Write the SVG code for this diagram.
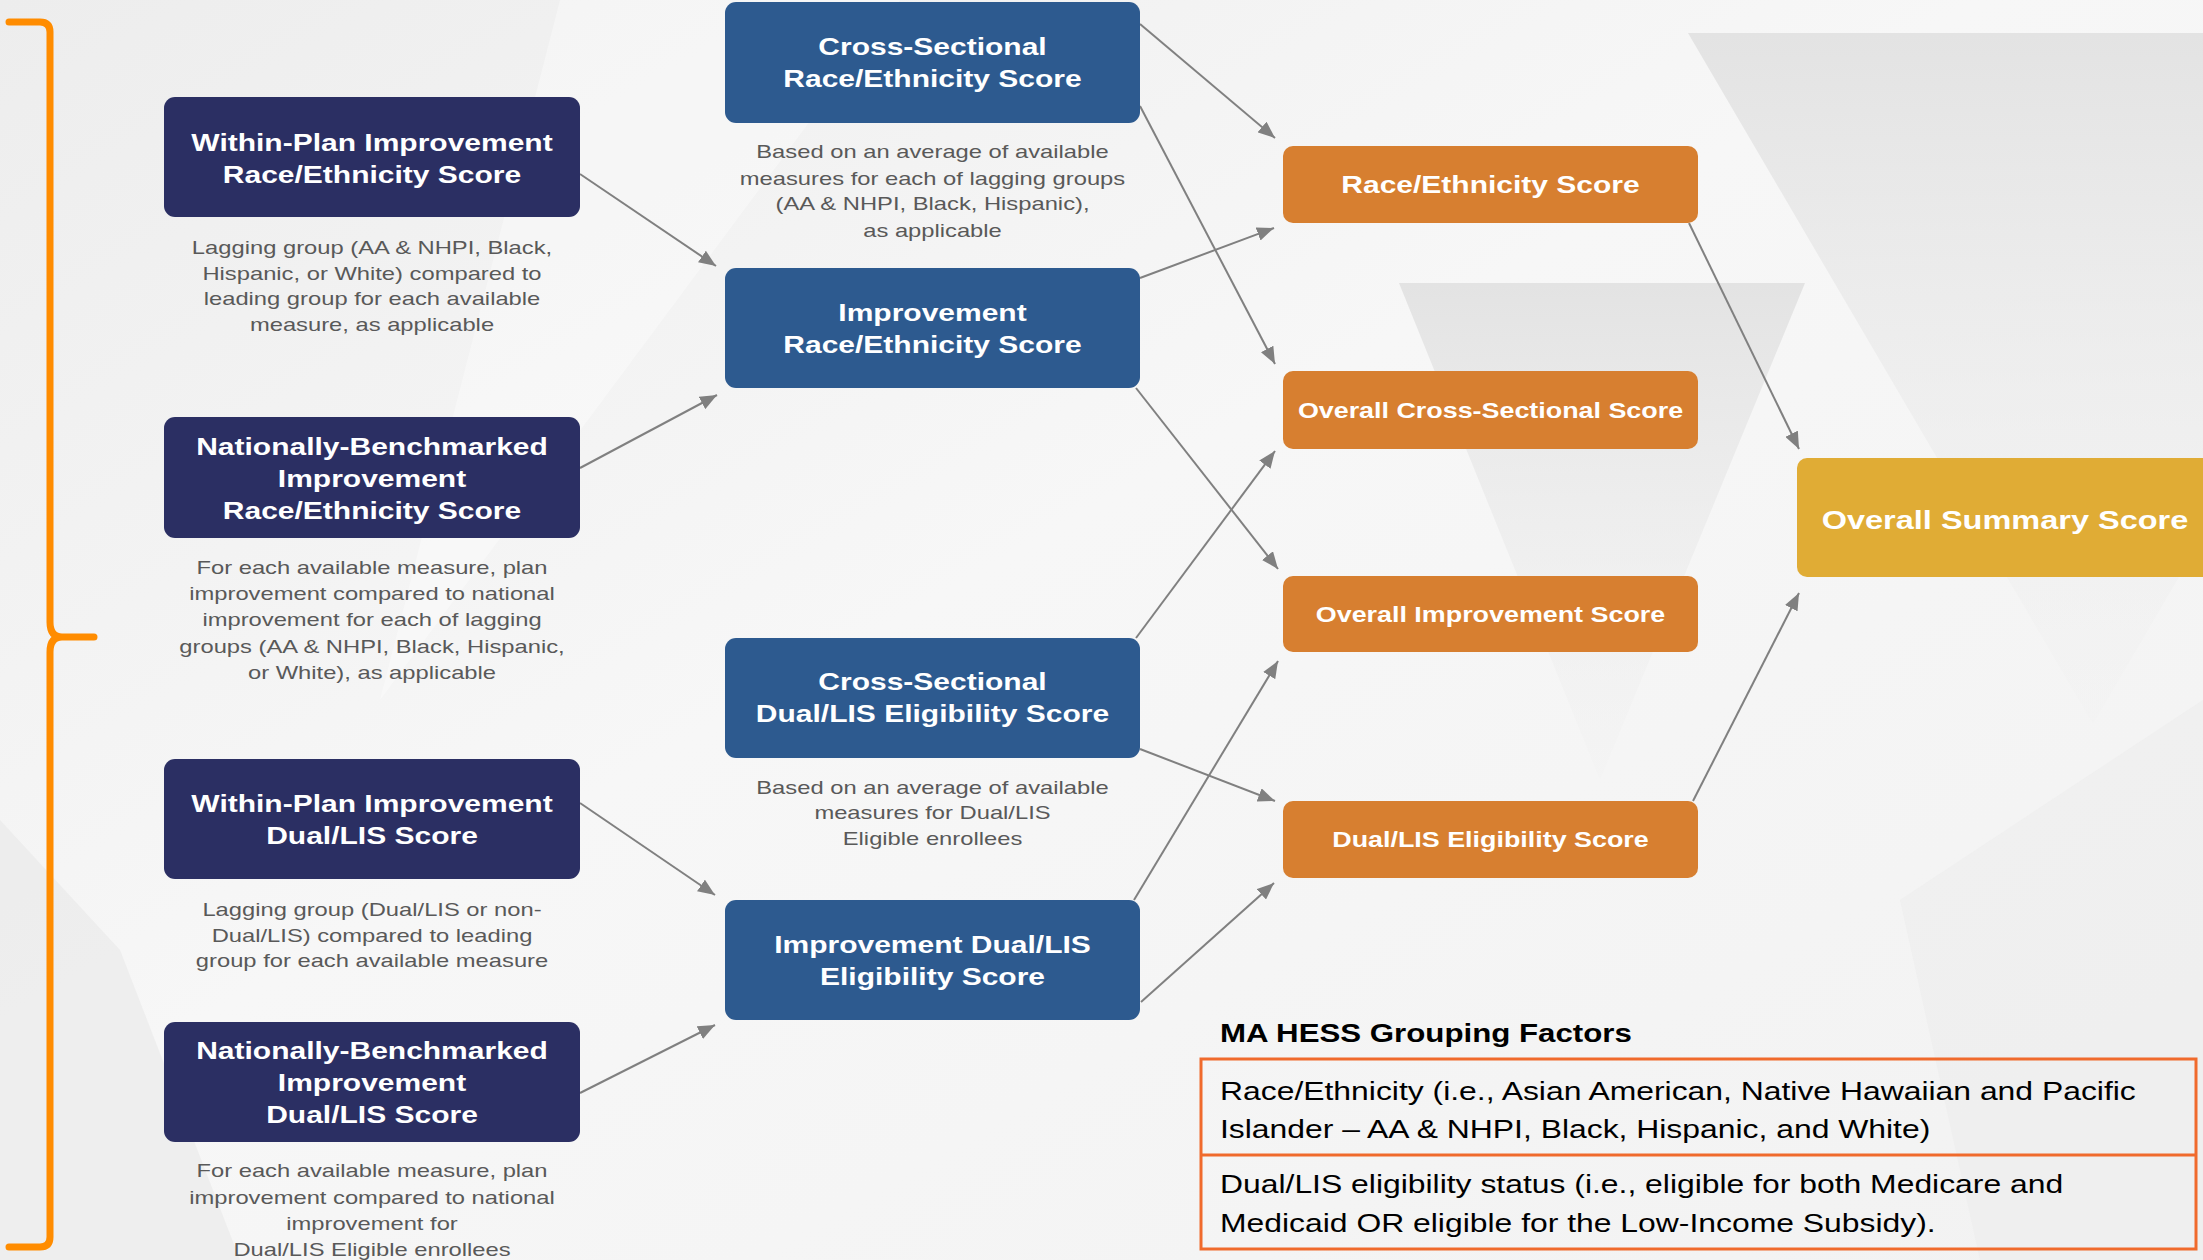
<svg xmlns="http://www.w3.org/2000/svg" width="2203" height="1260" viewBox="0 0 2203 1260">
<style>
.bt{font-family:"Liberation Sans",Arial,sans-serif;font-weight:bold;font-size:24px;fill:#fff;text-anchor:middle}
.ot{font-family:"Liberation Sans",Arial,sans-serif;font-weight:bold;font-size:21.5px;fill:#fff;text-anchor:middle}
.ds{font-family:"Liberation Sans",Arial,sans-serif;font-size:19px;fill:#595959;text-anchor:middle}
.tb{font-family:"Liberation Sans",Arial,sans-serif;font-size:25.5px;fill:#000}
.navy{fill:#2B2F63}
.blue{fill:#2D5A8F}
.orange{fill:#D77F30}
.gold{fill:#E0AC35}
.conn line{stroke:#808080;stroke-width:2;marker-end:url(#ah)}
</style>
<defs>
<marker id="ah" markerUnits="userSpaceOnUse" markerWidth="18" markerHeight="14" refX="17" refY="7" orient="auto">
<path d="M0,0 L17,7 L0,14 z" fill="#808080"/>
</marker>
<linearGradient id="bg" x1="0" y1="0" x2="1" y2="1">
<stop offset="0" stop-color="#EDEDED"/>
<stop offset="0.45" stop-color="#F7F7F7"/>
<stop offset="1" stop-color="#F2F2F2"/>
</linearGradient>
<linearGradient id="tri" x1="0" y1="0" x2="0" y2="1">
<stop offset="0" stop-color="#E3E3E3"/>
<stop offset="1" stop-color="#EFEFEF" stop-opacity="0.2"/>
</linearGradient>
</defs>
<rect width="2203" height="1260" fill="url(#bg)"/>
<g id="background">
<polygon points="1688,33 2203,33 2203,536 2093,724" fill="url(#tri)"/>
<polygon points="1399,283 1805,283 1600,780" fill="url(#tri)"/>
<polygon points="560,0 900,0 380,700" fill="#FFFFFF" opacity="0.35"/>
<polygon points="0,820 120,950 240,1260 0,1260" fill="#E6E6E6" opacity="0.5"/>
<polygon points="1900,900 2203,700 2203,1260 1980,1260" fill="#EBEBEB" opacity="0.5"/>
</g>
<g id="bracket">
<path d="M9,22 H40 Q50,22 50,32 V622 Q50,637 62,637 H94 M94,637 H62 Q50,637 50,652 V1237 Q50,1247 40,1247 H9" fill="none" stroke="#FF8C00" stroke-width="7" stroke-linecap="round" stroke-linejoin="round"/>
</g>
<g id="connectors" class="conn">
<line x1="580" y1="174" x2="716" y2="266"/>
<line x1="580" y1="468" x2="717" y2="395"/>
<line x1="580" y1="803" x2="715" y2="895"/>
<line x1="580" y1="1093" x2="715" y2="1025"/>
<line x1="1140" y1="24" x2="1275" y2="138"/>
<line x1="1140" y1="106" x2="1275" y2="364"/>
<line x1="1140" y1="278" x2="1274" y2="228"/>
<line x1="1136" y1="388" x2="1278" y2="569"/>
<line x1="1136" y1="638" x2="1275" y2="451"/>
<line x1="1140" y1="749" x2="1275" y2="801"/>
<line x1="1134" y1="900" x2="1278" y2="661"/>
<line x1="1141" y1="1002" x2="1274" y2="883"/>
<line x1="1689" y1="223" x2="1799" y2="449"/>
<line x1="1693" y1="801" x2="1799" y2="593"/>
</g>
<g id="within-plan-re">
<rect class="navy" x="164" y="97" width="416" height="120" rx="11"/>
<text class="bt" transform="matrix(1.25 0 0 1 372 0)"><tspan x="0" y="151">Within-Plan Improvement</tspan><tspan x="0" y="183">Race/Ethnicity Score</tspan></text>
<text class="ds" transform="matrix(1.25 0 0 1 372 0)"><tspan x="0" y="254">Lagging group (AA &amp; NHPI, Black,</tspan><tspan x="0" y="280">Hispanic, or White) compared to</tspan><tspan x="0" y="305">leading group for each available</tspan><tspan x="0" y="331">measure, as applicable</tspan></text>
</g>
<g id="nb-re">
<rect class="navy" x="164" y="417" width="416" height="121" rx="11"/>
<text class="bt" transform="matrix(1.25 0 0 1 372 0)"><tspan x="0" y="455">Nationally-Benchmarked</tspan><tspan x="0" y="487">Improvement</tspan><tspan x="0" y="519">Race/Ethnicity Score</tspan></text>
<text class="ds" transform="matrix(1.25 0 0 1 372 0)"><tspan x="0" y="574">For each available measure, plan</tspan><tspan x="0" y="600">improvement compared to national</tspan><tspan x="0" y="626">improvement for each of lagging</tspan><tspan x="0" y="653">groups (AA &amp; NHPI, Black, Hispanic,</tspan><tspan x="0" y="679">or White), as applicable</tspan></text>
</g>
<g id="within-plan-dual">
<rect class="navy" x="164" y="759" width="416" height="120" rx="11"/>
<text class="bt" transform="matrix(1.25 0 0 1 372 0)"><tspan x="0" y="812">Within-Plan Improvement</tspan><tspan x="0" y="844">Dual/LIS Score</tspan></text>
<text class="ds" transform="matrix(1.25 0 0 1 372 0)"><tspan x="0" y="916">Lagging group (Dual/LIS or non-</tspan><tspan x="0" y="942">Dual/LIS) compared to leading</tspan><tspan x="0" y="967">group for each available measure</tspan></text>
</g>
<g id="nb-dual">
<rect class="navy" x="164" y="1022" width="416" height="120" rx="11"/>
<text class="bt" transform="matrix(1.25 0 0 1 372 0)"><tspan x="0" y="1059">Nationally-Benchmarked</tspan><tspan x="0" y="1091">Improvement</tspan><tspan x="0" y="1123">Dual/LIS Score</tspan></text>
<text class="ds" transform="matrix(1.25 0 0 1 372 0)"><tspan x="0" y="1177">For each available measure, plan</tspan><tspan x="0" y="1204">improvement compared to national</tspan><tspan x="0" y="1230">improvement for</tspan><tspan x="0" y="1256">Dual/LIS Eligible enrollees</tspan></text>
</g>
<g id="cs-re">
<rect class="blue" x="725" y="2" width="415" height="121" rx="11"/>
<text class="bt" transform="matrix(1.25 0 0 1 932.5 0)"><tspan x="0" y="55">Cross-Sectional</tspan><tspan x="0" y="87">Race/Ethnicity Score</tspan></text>
<text class="ds" transform="matrix(1.25 0 0 1 932.5 0)"><tspan x="0" y="158">Based on an average of available</tspan><tspan x="0" y="185">measures for each of lagging groups</tspan><tspan x="0" y="210">(AA &amp; NHPI, Black, Hispanic),</tspan><tspan x="0" y="237">as applicable</tspan></text>
</g>
<g id="imp-re">
<rect class="blue" x="725" y="268" width="415" height="120" rx="11"/>
<text class="bt" transform="matrix(1.25 0 0 1 932.5 0)"><tspan x="0" y="321">Improvement</tspan><tspan x="0" y="353">Race/Ethnicity Score</tspan></text>
</g>
<g id="cs-dual">
<rect class="blue" x="725" y="638" width="415" height="120" rx="11"/>
<text class="bt" transform="matrix(1.25 0 0 1 932.5 0)"><tspan x="0" y="690">Cross-Sectional</tspan><tspan x="0" y="722">Dual/LIS Eligibility Score</tspan></text>
<text class="ds" transform="matrix(1.25 0 0 1 932.5 0)"><tspan x="0" y="794">Based on an average of available</tspan><tspan x="0" y="819">measures for Dual/LIS</tspan><tspan x="0" y="845">Eligible enrollees</tspan></text>
</g>
<g id="imp-dual">
<rect class="blue" x="725" y="900" width="415" height="120" rx="11"/>
<text class="bt" transform="matrix(1.25 0 0 1 932.5 0)"><tspan x="0" y="953">Improvement Dual/LIS</tspan><tspan x="0" y="985">Eligibility Score</tspan></text>
</g>
<g id="re-score">
<rect class="orange" x="1283" y="146" width="415" height="77" rx="10"/>
<text class="bt" transform="matrix(1.25 0 0 1 1490.5 0)" x="0" y="193">Race/Ethnicity Score</text>
</g>
<g id="overall-cs">
<rect class="orange" x="1283" y="371" width="415" height="78" rx="10"/>
<text class="ot" transform="matrix(1.25 0 0 1 1490.5 0)" x="0" y="418">Overall Cross-Sectional Score</text>
</g>
<g id="overall-imp">
<rect class="orange" x="1283" y="576" width="415" height="76" rx="10"/>
<text class="ot" transform="matrix(1.25 0 0 1 1490.5 0)" x="0" y="622">Overall Improvement Score</text>
</g>
<g id="dual-score">
<rect class="orange" x="1283" y="801" width="415" height="77" rx="10"/>
<text class="ot" transform="matrix(1.25 0 0 1 1490.5 0)" x="0" y="847">Dual/LIS Eligibility Score</text>
</g>
<g id="summary">
<rect class="gold" x="1797" y="458" width="430" height="119" rx="10"/>
<text class="bt" style="font-size:26px" transform="matrix(1.25 0 0 1 2005 0)" x="0" y="529">Overall Summary Score</text>
</g>
<g id="grouping-factors">
<text class="tb" style="font-weight:bold;font-size:25px" transform="matrix(1.25 0 0 1 1220 0)" x="0" y="1042">MA HESS Grouping Factors</text>
<rect x="1201" y="1059" width="995" height="190" fill="none" stroke="#F06A2C" stroke-width="3"/>
<line x1="1201" y1="1155" x2="2196" y2="1155" stroke="#F06A2C" stroke-width="3"/>
<text class="tb" transform="matrix(1.25 0 0 1 1220 0)"><tspan x="0" y="1100">Race/Ethnicity (i.e., Asian American, Native Hawaiian and Pacific</tspan><tspan x="0" y="1138">Islander – AA &amp; NHPI, Black, Hispanic, and White)</tspan></text>
<text class="tb" transform="matrix(1.25 0 0 1 1220 0)"><tspan x="0" y="1193">Dual/LIS eligibility status (i.e., eligible for both Medicare and</tspan><tspan x="0" y="1232">Medicaid OR eligible for the Low-Income Subsidy).</tspan></text>
</g>
</svg>
